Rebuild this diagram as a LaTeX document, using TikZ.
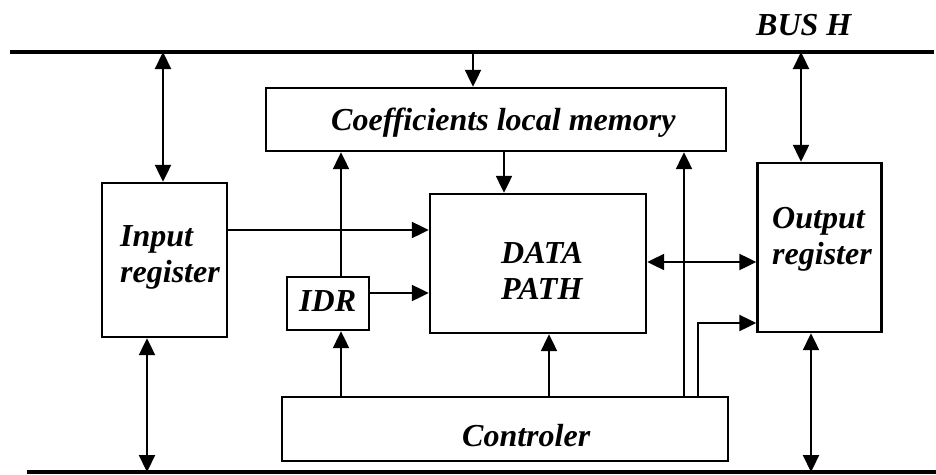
\documentclass[tikz,border=0pt]{standalone}
\usepackage{fontspec}
\setmainfont{Liberation Serif}
\usetikzlibrary{arrows.meta}
\begin{document}
\begin{tikzpicture}[x=1pt,y=-1pt,
  box/.style={draw, line width=2.4pt, inner sep=0pt},
  lbl/.style={font=\fontsize{32}{36}\selectfont\bfseries\itshape, inner sep=0pt, align=left},
  wire/.style={line width=2.2pt},
  arr/.style={wire, -{Triangle[length=17pt,width=16pt]}},
  dbl/.style={wire, {Triangle[length=17pt,width=16pt]}-{Triangle[length=17pt,width=16pt]}},
  bus/.style={line width=4pt}]
\useasboundingbox (0,0) rectangle (936,474);

% buses
\coordinate (tl) at (10,52);
\coordinate (tr) at (934,52);
\coordinate (bl) at (27,472);
\coordinate (br) at (936,472);
\draw[bus] (tl) -- (tr);
\draw[bus] (bl) -- (br);
\node[lbl, anchor=base west] (bush) at (756,35) {BUS H};

% blocks
\node[box, minimum width=125pt, minimum height=154pt] (inreg) at (164.5,260) {};
\node[box, minimum width=460pt, minimum height=63pt] (coef) at (496,119.5) {};
\node[box, minimum width=216pt, minimum height=139pt] (dp) at (538,263.5) {};
\node[box, minimum width=82pt, minimum height=53pt] (idr) at (328,303.5) {};
\node[box, minimum width=446pt, minimum height=64pt] (ctrl) at (505,429) {};
\node[box, minimum width=124pt, minimum height=169pt] (outreg) at (819.5,247.5) {};

% labels
\node[lbl, anchor=north west] (inregtxt) at (120,225) {Input\\register};
\node[lbl, anchor=north west] (outregtxt) at (772,207) {Output\\register};
\node[lbl, anchor=north west] (dptxt) at (501,242) {DATA\\PATH};
\node[lbl, anchor=base west] (coeftxt) at (331,130) {Coefficients local memory};
\node[lbl, anchor=base west] (idrtxt) at (299,311) {IDR};
\node[lbl, anchor=base west] (ctrltxt) at (462,446) {Controler};

% bus connections
\draw[dbl] ([xshift=-1.5pt]inreg.north |- tl) -- ([xshift=-1.5pt]inreg.north);
\draw[dbl] ([xshift=-17.5pt]inreg.south) -- ([xshift=-17.5pt]inreg.south |- bl);
\draw[arr] ([xshift=-23pt]coef.north |- tl) -- ([xshift=-23pt]coef.north);
\draw[dbl] ([xshift=-18.5pt]outreg.north |- tl) -- ([xshift=-18.5pt]outreg.north);
\draw[dbl] ([xshift=-8.5pt]outreg.south) -- ([xshift=-8.5pt]outreg.south |- bl);

% internal connections
\draw[arr] ([xshift=-34pt]dp.north |- coef.south) -- ([xshift=-34pt]dp.north);
\draw[arr] ([yshift=30pt]inreg.east) -- ([yshift=30pt]inreg.east -| dp.west);
\draw[arr] ([xshift=13pt]idr.north) -- ([xshift=13pt]idr.north |- coef.south);
\draw[arr] ([xshift=13pt]idr.south |- ctrl.north) -- ([xshift=13pt]idr.south);
\draw[arr] ([yshift=10.5pt]idr.east) -- ([yshift=10.5pt]idr.east -| dp.west);
\draw[arr] ([xshift=11pt]dp.south |- ctrl.north) -- ([xshift=11pt]dp.south);
\draw[arr] ([xshift=188pt]coef.south |- ctrl.north) -- ([xshift=188pt]coef.south);
\draw[arr] ([xshift=193pt]ctrl.north) |- ([yshift=-75.5pt]outreg.west);
\draw[dbl] ([yshift=1.5pt]dp.east) -- ([yshift=1.5pt]dp.east -| outreg.west);
\end{tikzpicture}
\end{document}
